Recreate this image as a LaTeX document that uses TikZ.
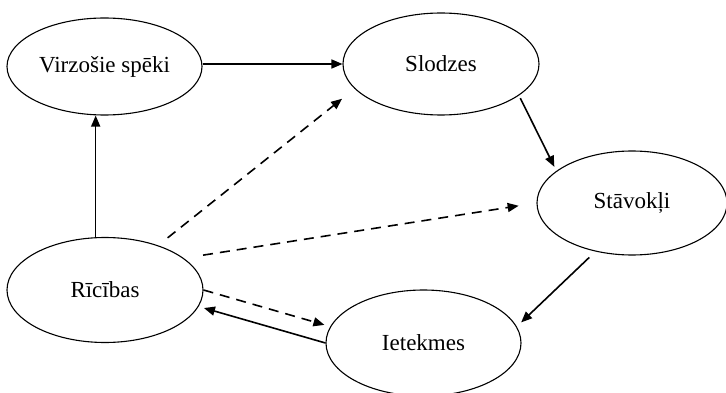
\documentclass[tikz,border=0pt]{standalone}
\usepackage{fontspec}
\setmainfont{Liberation Serif}
\usetikzlibrary{shapes.geometric,arrows.meta}

\begin{document}
\begin{tikzpicture}[x=1pt,y=-1pt,
  oval/.style={ellipse,draw,line width=1.1pt,inner sep=0pt,
    font=\fontsize{23}{27}\selectfont},
  link/.style={line width=1.6pt,-{Triangle[length=11pt,width=9pt]}},
  maybe/.style={link,dash pattern=on 10pt off 7pt}]
  \useasboundingbox (0,0) rectangle (726,393);

  % the five states of the cycle
  \node[oval,minimum width=195pt,minimum height=97pt]  (vir) at (104.5,66.5) {Virzošie spēki};
  \node[oval,minimum width=196pt,minimum height=102pt] (slo) at (441,64)    {Slodzes};
  \node[oval,minimum width=190pt,minimum height=104pt] (sta) at (632,203)   {Stāvokļi};
  \node[oval,minimum width=196pt,minimum height=105pt] (ric) at (105,290)   {Rīcības};
  \node[oval,minimum width=195pt,minimum height=106pt] (iet) at (423.5,343) {Ietekmes};

  % direct influences
  \draw[link] (vir.east |- slo.west) -- (slo.west);
  \draw[link,shorten <=3pt,shorten >=4.5pt] (slo.338) -- (sta.157);
  \draw[link,shorten <=8.5pt,shorten >=6pt] (sta.233) -- (iet.10);
  \draw[link,shorten >=5.5pt] (iet.west) -- (ric.350);
  \draw[link] (ric.100) -- (ric.100 |- vir.south);

  % indirect influences of the responses
  \draw[maybe,shorten <=12pt,shorten >=16pt] (ric.40) -- (slo.196);
  \draw[maybe,shorten <=19.5pt,shorten >=18pt] (ric.22) -- (sta.180);
  \draw[maybe,shorten >=6pt] (ric.east) -- (iet.170);
\end{tikzpicture}
\end{document}
